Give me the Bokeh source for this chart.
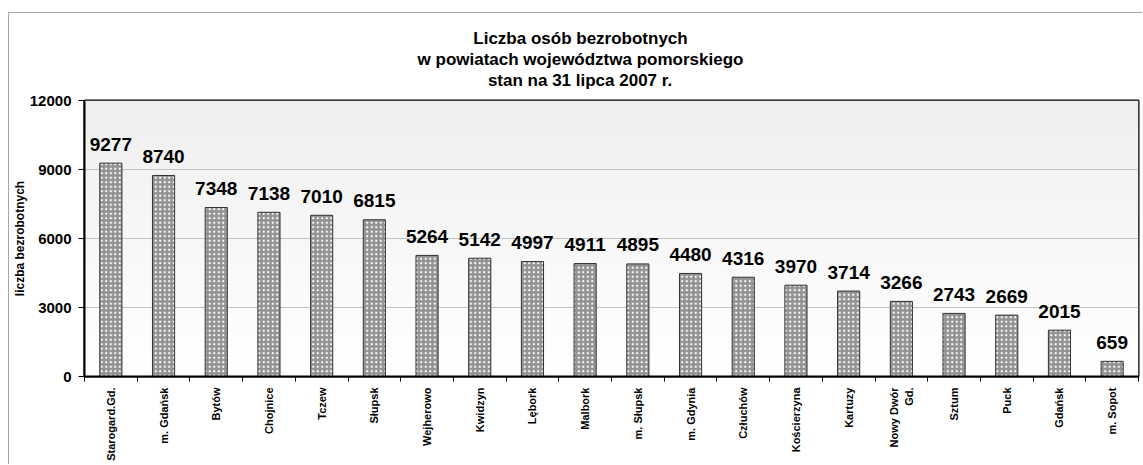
import numpy as np
from bokeh.plotting import figure
from bokeh.models import ColumnDataSource, FixedTicker, Title
from bokeh.core.properties import value
from bokeh.embed import file_html
from bokeh.resources import INLINE

categories = ["Starogard.Gd.", "m. Gdańsk", "Bytów", "Chojnice", "Tczew", "Słupsk",
              "Wejherowo", "Kwidzyn", "Lębork", "Malbork", "m. Słupsk", "m. Gdynia",
              "Człuchów", "Kościerzyna", "Kartuzy", "Nowy Dwór\nGd.", "Sztum", "Puck",
              "Gdańsk", "m. Sopot"]
values = [9277, 8740, 7348, 7138, 7010, 6815, 5264, 5142, 4997, 4911, 4895, 4480,
          4316, 3970, 3714, 3266, 2743, 2669, 2015, 659]
y_ticks = [0, 3000, 6000, 9000, 12000]
title_lines = ["Liczba osób bezrobotnych",
               "w powiatach województwa pomorskiego",
               "stan na 31 lipca 2007 r."]
y_label = "liczba bezrobotnych"

FONT = "Liberation Sans"

# approximate bold Helvetica/Arial advance widths (per 1000 em) for centring titles
_W = {" ": 278, "a": 556, "b": 611, "c": 556, "d": 611, "e": 556, "g": 611, "h": 611,
      "i": 278, "j": 278, "k": 556, "l": 278, "m": 889, "n": 611, "o": 611, "p": 611,
      "r": 389, "s": 556, "t": 333, "w": 778, "y": 556, "z": 500, "L": 611, "ó": 611,
      ".": 278}


def text_width(s, size):
    return sum(_W.get(ch, 556) for ch in s) * size / 1000.0


xs = list(range(1, len(categories) + 1))
src = ColumnDataSource(dict(x=xs, top=values, label=[str(v) for v in values]))

FRAME_LEFT = 75
p = figure(width=1134, height=452,
           x_range=(0.5, len(categories) + 0.5), y_range=(0, y_ticks[-1]),
           output_backend="svg", toolbar_location=None,
           min_border_left=FRAME_LEFT, min_border_right=5, min_border_top=87,
           min_border_bottom=89)
p.styles = {"margin-left": "8px", "margin-top": "12px",
            "border-left": "1px solid #a6a6a6", "border-top": "1px solid #a6a6a6"}

# background gradient (light gray at top to white at bottom)
n = 120
img = np.empty((n, 1), dtype=np.uint32)
view = img.view(dtype=np.uint8).reshape((n, 1, 4))
for i in range(n):
    c = int(round(255 - 16 * i / (n - 1)))
    view[i, 0, :] = [c, c, c, 255]
p.image_rgba(image=[img], x=0.5, y=0, dw=len(categories), dh=y_ticks[-1], level="image")

p.background_fill_color = "white"
p.border_fill_color = "white"
p.outline_line_color = "black"
p.outline_line_width = 2

p.vbar(x="x", top="top", width=0.42, source=src,
       fill_color="#939393", line_color="#333333", line_width=1,
       hatch_pattern="dot", hatch_color="white", hatch_scale=4.5, hatch_weight=1.1)

p.text(x="x", y="top", text="label", source=src,
       text_align="center", text_baseline="alphabetic", y_offset=-19,
       text_font=value(FONT), text_font_style="bold", text_font_size="19px",
       text_color="black")

# axes
p.xgrid.visible = False
p.ygrid.ticker = FixedTicker(ticks=y_ticks)
p.ygrid.grid_line_color = "#c4c4c4"
p.ygrid.grid_line_width = 1

xa = p.xaxis[0]
xa.ticker = FixedTicker(ticks=xs, minor_ticks=[x - 0.5 for x in xs] + [xs[-1] + 0.5])
xa.major_label_overrides = {x: c for x, c in zip(xs, categories)}
xa.major_label_orientation = np.pi / 2
xa.major_tick_in = 0
xa.major_tick_out = 0
xa.minor_tick_in = 0
xa.minor_tick_out = 5
xa.minor_tick_line_color = "black"
xa.axis_line_color = "black"
xa.axis_line_width = 2
xa.major_label_standoff = 6
xa.major_label_text_font = FONT
xa.major_label_text_font_style = "bold"
xa.major_label_text_font_size = "11px"
xa.major_label_text_color = "black"

ya = p.yaxis[0]
ya.ticker = FixedTicker(ticks=y_ticks)
ya.major_tick_in = 0
ya.major_tick_out = 6
ya.minor_tick_line_color = None
ya.major_tick_line_color = "black"
ya.axis_line_color = "black"
ya.axis_line_width = 2
ya.major_label_standoff = 7
ya.major_label_text_font = FONT
ya.major_label_text_font_style = "bold"
ya.major_label_text_font_size = "15px"
ya.major_label_text_color = "black"
ya.axis_label = y_label
ya.axis_label_standoff = 0
ya.axis_label_text_font = FONT
ya.axis_label_text_font_style = "bold"
ya.axis_label_text_font_size = "12px"
ya.axis_label_text_color = "black"

# spacer between the frame and the title block
p.add_layout(Title(text=" ", text_font_size="1px", standoff=8), "above")
# title lines (added bottom line first; later titles stack above)
TITLE_CENTER = 571
TITLE_SIZE = 17
for t in reversed(title_lines):
    off = TITLE_CENTER - FRAME_LEFT - text_width(t, TITLE_SIZE) / 2
    p.add_layout(Title(text=t, align="left", offset=off, standoff=0,
                       text_font=FONT, text_font_style="bold",
                       text_font_size=f"{TITLE_SIZE}px", text_color="black"), "above")

open("out.html", "w").write(file_html(p, INLINE))
